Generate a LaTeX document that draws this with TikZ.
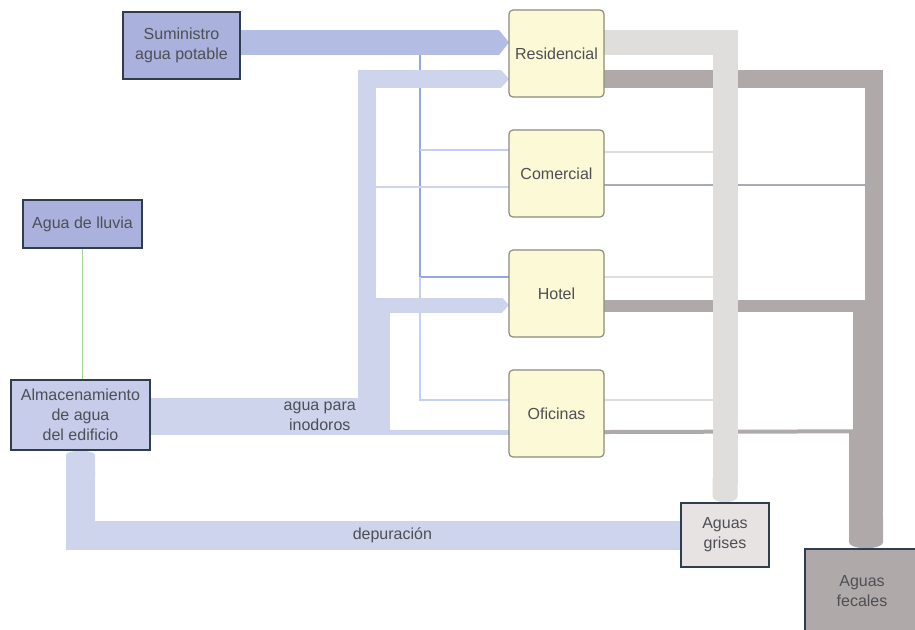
\documentclass[tikz,border=0pt]{standalone}
\usepackage{fontspec}
\setmainfont{Liberation Sans}
\usetikzlibrary{positioning,calc,arrows.meta}

\definecolor{potable}{HTML}{B3BCE3}
\definecolor{inodoro}{HTML}{CDD4EC}
\definecolor{azulcaja}{HTML}{A9B1DC}
\definecolor{azulclaro}{HTML}{C6CCE9}
\definecolor{borde}{HTML}{2F3E4F}
\definecolor{edif}{HTML}{FCF9D6}
\definecolor{edifborde}{HTML}{8C8A7C}
\definecolor{gris}{HTML}{E0DDDD}
\definecolor{griscaja}{HTML}{E7E3E3}
\definecolor{fecal}{HTML}{B0A9A9}
\definecolor{tubo}{HTML}{93A8E2}
\definecolor{tuboclaro}{HTML}{C3D0F1}
\definecolor{lluvia}{HTML}{A6D98C}
\definecolor{texto}{HTML}{4E4F55}

\pgfdeclarelayer{flujo}
\pgfsetlayers{flujo,main}

\tikzset{
  every node/.style={font=\fontsize{8}{10}\selectfont, text=texto, align=center, inner sep=2pt},
  fuente/.style={draw=borde, line width=0.75pt, fill=azulcaja},
  uso/.style={draw=edifborde, line width=0.6pt, fill=edif, rounded corners=2pt, outer sep=0pt,
    minimum width=47.5pt, minimum height=43.5pt},
  salida/.style={draw=borde, line width=0.7pt},
  fino/.style={line width=0.6pt},
}

\begin{document}
\begin{tikzpicture}[x=0.5pt,y=-0.5pt]
    \useasboundingbox (0,0) rectangle (915,629);

    % entradas de agua
    \node[fuente, minimum width=58.5pt, minimum height=33.5pt] (sum) at (181.5,45.5) {Suministro\\agua potable};
    \node[fuente, minimum width=59.5pt, minimum height=24pt] (lluvia) at (82.5,224) {Agua de lluvia};
    \node[fuente, fill=azulclaro, minimum width=69.5pt, minimum height=35pt] (alm) at (80.5,415) {Almacenamiento\\de agua\\del edificio};

    % usos
    \node[uso] (res) at (556.5,53.5) {Residencial};
    \node[uso, below=16.5pt of res] (com) {Comercial};
    \node[uso, below=16.5pt of com] (hot) {Hotel};
    \node[uso, below=16.5pt of hot] (ofi) {Oficinas};

    % salidas
    \node[salida, fill=griscaja, minimum width=44pt, minimum height=32pt] (gri) at (725,535) {Aguas\\grises};
    \node[salida, fill=fecal, minimum width=57pt, minimum height=42pt] (fec) at (862,591) {Aguas\\fecales};

    \node (inod) at ($(alm.east)+(169,1)$) {agua para\\inodoros};

    \begin{pgfonlayer}{flujo}
    % lineas finas
    \coordinate (tap) at ($(res.west)+(-89,-11)$);
    \draw[tubo, line width=1.25pt] (tap) |- ($(hot.west)+(0,-16.5)$);
    \draw[tuboclaro, fino] ($(tap)+(0,234.5)$) |- ($(ofi.west)+(0,-13.5)$);
    \draw[tuboclaro, fino] ($(com.west)+(0,-23.5)$) -- ++(-89,0);
    \draw[inodoro, fino] ($(com.west)+(0,13.5)$) -- ++(-143,0);
    \draw[gris, line width=0.8pt] ($(com.east)+(0,-21.5)$) -- ++(122,0);
    \draw[gris, line width=0.8pt] ($(hot.east)+(0,-16.5)$) -- ++(122,0);
    \draw[gris, line width=0.8pt] ($(ofi.east)+(0,-13.5)$) -- ++(122,0);
    \draw[fecal!70!tubo, fino] ($(com.east)+(0,11.5)$) -- ++(270,0);
    \draw[lluvia, line width=0.8pt] (lluvia.south) -- (lluvia.south |- alm.north);

    % agua potable
    \draw[potable, line width=12.5pt, -{Triangle[length=5pt,width=12.5pt,line width=0pt]}]
      ($(sum.east)+(0,-3)$) -- ($(res.west)+(0,-11)$);

    % agua para inodoros
    \draw[inodoro, line width=9pt, -{Triangle[length=4pt,width=9pt,line width=0pt]}]
      ($(alm.east)+(0,-8.5)$) -| ($(res.west)+(-142.5,25.5)$) -- ($(res.west)+(0,25.5)$);
    \draw[inodoro, line width=7.5pt, -{Triangle[length=3.5pt,width=7.5pt,line width=0pt]}]
      ($(alm.east)+(0,7.5)$) -| ($(hot.west)+(-126.5,11.5)$) -- ($(hot.west)+(0,11.5)$);
    \draw[inodoro, line width=2.5pt] ($(alm.east)+(0,17.5)$) -- ($(ofi.west)+(0,19)$);

    % depuracion
    \draw[inodoro, line width=14.5pt, -{Round Cap[length=2pt]}] (gri.west) -| (alm.south)
      node[pos=0.24] {depuración};

    % aguas fecales
    \coordinate (fj) at ($(fec.north)+(4,-117)$);
    \draw[fecal, line width=9pt] ($(res.east)+(0,25)$) -| ($(fj)+(8,0)$);
    \draw[fecal, line width=6pt] ($(hot.east)+(0,12)$) -| ($(fj)+(-7,0)$);
    \draw[fecal, line width=2pt] ($(ofi.east)+(0,18.5)$) -- (fj);
    \draw[fecal, line width=17pt, -{Round Cap[length=3pt]}] (fj) -- ($(fec.north)+(4,0)$);

    % aguas grises
    \draw[gris, line width=12.5pt, -{Round Cap[length=3pt]}] ($(res.east)+(0,-11)$) -| (gri.north);
    \end{pgfonlayer}
\end{tikzpicture}
\end{document}
